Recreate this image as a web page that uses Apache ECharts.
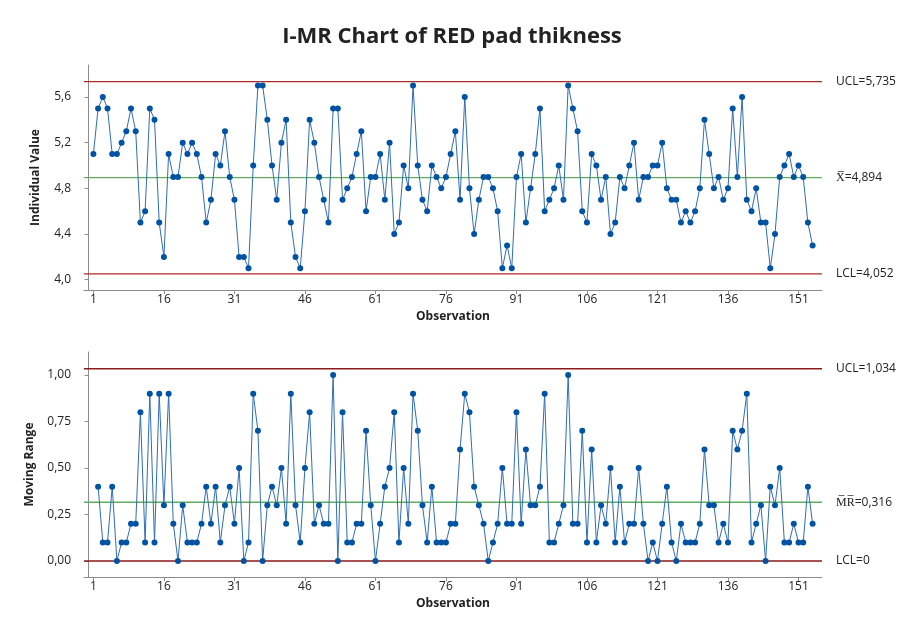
<!DOCTYPE html>
<html>
<head>
<meta charset="utf-8">
<script src="https://cdn.jsdelivr.net/npm/echarts@6/dist/echarts.min.js"></script>
<style>
  html, body { margin: 0; padding: 0; background: #fff; }
  #chart { width: 904px; height: 617px; }
</style>
</head>
<body>
<div id="chart"></div>
<script>
// individual values, observations 1..154
var individual = [
  5.1, 5.5, 5.6, 5.5, 5.1, 5.1, 5.2, 5.3, 5.5, 5.3,
  4.5, 4.6, 5.5, 5.4, 4.5, 4.2, 5.1, 4.9, 4.9, 5.2,
  5.1, 5.2, 5.1, 4.9, 4.5, 4.7, 5.1, 5.0, 5.3, 4.9,
  4.7, 4.2, 4.2, 4.1, 5.0, 5.7, 5.7, 5.4, 5.0, 4.7,
  5.2, 5.4, 4.5, 4.2, 4.1, 4.6, 5.4, 5.2, 4.9, 4.7,
  4.5, 5.5, 5.5, 4.7, 4.8, 4.9, 5.1, 5.3, 4.6, 4.9,
  4.9, 5.1, 4.7, 5.2, 4.4, 4.5, 5.0, 4.8, 5.7, 5.0,
  4.7, 4.6, 5.0, 4.9, 4.8, 4.9, 5.1, 5.3, 4.7, 5.6,
  4.8, 4.4, 4.7, 4.9, 4.9, 4.8, 4.6, 4.1, 4.3, 4.1,
  4.9, 5.1, 4.5, 4.8, 5.1, 5.5, 4.6, 4.7, 4.8, 5.0,
  4.7, 5.7, 5.5, 5.3, 4.6, 4.5, 5.1, 5.0, 4.7, 4.9,
  4.4, 4.5, 4.9, 4.8, 5.0, 5.2, 4.7, 4.9, 4.9, 5.0,
  5.0, 5.2, 4.8, 4.7, 4.7, 4.5, 4.6, 4.5, 4.6, 4.8,
  5.4, 5.1, 4.8, 4.9, 4.7, 4.8, 5.5, 4.9, 5.6, 4.7,
  4.6, 4.8, 4.5, 4.5, 4.1, 4.4, 4.9, 5.0, 5.1, 4.9,
  5.0, 4.9, 4.5, 4.3
];

// moving ranges, observations 2..154
var movingRange = [
  0.4, 0.1, 0.1, 0.4, 0.0, 0.1, 0.1, 0.2, 0.2,
  0.8, 0.1, 0.9, 0.1, 0.9, 0.3, 0.9, 0.2, 0.0, 0.3,
  0.1, 0.1, 0.1, 0.2, 0.4, 0.2, 0.4, 0.1, 0.3, 0.4,
  0.2, 0.5, 0.0, 0.1, 0.9, 0.7, 0.0, 0.3, 0.4, 0.3,
  0.5, 0.2, 0.9, 0.3, 0.1, 0.5, 0.8, 0.2, 0.3, 0.2,
  0.2, 1.0, 0.0, 0.8, 0.1, 0.1, 0.2, 0.2, 0.7, 0.3,
  0.0, 0.2, 0.4, 0.5, 0.8, 0.1, 0.5, 0.2, 0.9, 0.7,
  0.3, 0.1, 0.4, 0.1, 0.1, 0.1, 0.2, 0.2, 0.6, 0.9,
  0.8, 0.4, 0.3, 0.2, 0.0, 0.1, 0.2, 0.5, 0.2, 0.2,
  0.8, 0.2, 0.6, 0.3, 0.3, 0.4, 0.9, 0.1, 0.1, 0.2,
  0.3, 1.0, 0.2, 0.2, 0.7, 0.1, 0.6, 0.1, 0.3, 0.2,
  0.5, 0.1, 0.4, 0.1, 0.2, 0.2, 0.5, 0.2, 0.0, 0.1,
  0.0, 0.2, 0.4, 0.1, 0.0, 0.2, 0.1, 0.1, 0.1, 0.2,
  0.6, 0.3, 0.3, 0.1, 0.2, 0.1, 0.7, 0.6, 0.7, 0.9,
  0.1, 0.2, 0.3, 0.0, 0.4, 0.3, 0.5, 0.1, 0.1, 0.2,
  0.1, 0.1, 0.4, 0.2
];

var obsTicks = [1, 16, 31, 46, 61, 76, 91, 106, 121, 136, 151];
var indTicks = [4.0, 4.4, 4.8, 5.2, 5.6];
var mrTicks = [0, 0.25, 0.5, 0.75, 1.0];

var indLimits = { ucl: 5.735, cl: 4.894, lcl: 4.052 };
var mrLimits = { ucl: 1.034, cl: 0.316, lcl: 0 };

var X_MIN = -1, X_MAX = 156;
var FONT = 'Open Sans';
var RED_I = '#b02a2a';
var RED_MR = '#8b1a1a';
var GREEN = '#5fae5f';
var comma = function (s) { return s.replace('.', ','); };

var indData = individual.map(function (v, i) { return [i + 1, v]; });
var mrData = movingRange.map(function (v, i) { return [i + 2, v]; });

function xAxisCfg(gridIndex) {
  return {
    type: 'value', gridIndex: gridIndex, min: X_MIN, max: X_MAX,
    name: 'Observation', nameLocation: 'middle', nameGap: 21,
    nameTextStyle: { fontFamily: FONT, fontWeight: 'bold', fontSize: 12, color: '#222' },
    axisLine: { show: true, onZero: false, lineStyle: { color: '#8c8c8c' } },
    axisTick: { show: true, length: 4, customValues: obsTicks, lineStyle: { color: '#8c8c8c' } },
    axisLabel: { customValues: obsTicks, fontFamily: FONT, fontSize: 12, color: '#222', margin: 4 },
    splitLine: { show: false }
  };
}

function yAxisCfg(gridIndex, min, max, name, gap, ticks, digits) {
  return {
    type: 'value', gridIndex: gridIndex, min: min, max: max,
    name: name, nameLocation: 'middle', nameGap: gap,
    nameTextStyle: { fontFamily: FONT, fontWeight: 'bold', fontSize: 12, color: '#222' },
    axisLine: { show: true, lineStyle: { color: '#8c8c8c' } },
    axisTick: { show: true, length: 4, customValues: ticks, lineStyle: { color: '#8c8c8c' } },
    axisLabel: { customValues: ticks, fontFamily: FONT, fontSize: 12, color: '#222', margin: 13,
      formatter: function (v) { return comma(v.toFixed(digits)); } },
    splitLine: { show: false }
  };
}

// control line drawn across the whole plot, label at its right end
function limitSeries(gi, value, text, color) {
  return {
    type: 'line', xAxisIndex: gi, yAxisIndex: gi, z: 2, silent: true,
    data: [[X_MIN, value], [X_MAX, value]],
    symbol: 'none',
    lineStyle: { color: color, width: 1.3, type: 'solid' },
    itemStyle: { color: color },
    endLabel: { show: true, distance: 14, formatter: text,
      fontFamily: FONT, fontSize: 12, color: '#222' }
  };
}

var option = {
  animation: false,
  backgroundColor: '#fff',
  title: {
    text: 'I-MR Chart of RED pad thikness', left: 'center', top: 21,
    textStyle: { fontFamily: FONT, fontWeight: 'bold', fontSize: 22, color: '#222' }
  },
  grid: [
    { left: 84, right: 82, top: 65, height: 225 },
    { left: 84, right: 82, top: 352, height: 225 }
  ],
  xAxis: [xAxisCfg(0), xAxisCfg(1)],
  yAxis: [
    yAxisCfg(0, 3.91, 5.88, 'Individual Value', 42, indTicks, 1),
    yAxisCfg(1, -0.086, 1.124, 'Moving Range', 48, mrTicks, 2)
  ],
  series: [
    limitSeries(0, indLimits.ucl, 'UCL=5,735', RED_I),
    limitSeries(0, indLimits.cl, 'X\u0305=4,894', GREEN),
    limitSeries(0, indLimits.lcl, 'LCL=4,052', RED_I),
    limitSeries(1, mrLimits.ucl, 'UCL=1,034', RED_MR),
    limitSeries(1, mrLimits.cl, 'M\u0305R\u0305=0,316', GREEN),
    limitSeries(1, mrLimits.lcl, 'LCL=0', RED_MR),
    {
      type: 'line', xAxisIndex: 0, yAxisIndex: 0, data: indData, z: 5,
      symbol: 'circle', symbolSize: 6, showAllSymbol: true,
      lineStyle: { color: '#2f6db5', width: 1 },
      itemStyle: { color: '#0052a3' }
    },
    {
      type: 'line', xAxisIndex: 1, yAxisIndex: 1, data: mrData, z: 5,
      symbol: 'circle', symbolSize: 6, showAllSymbol: true,
      lineStyle: { color: '#2f6db5', width: 1 },
      itemStyle: { color: '#0052a3' }
    }
  ]
};

var chart = echarts.init(document.getElementById('chart'));
chart.setOption(option);
</script>
</body>
</html>
